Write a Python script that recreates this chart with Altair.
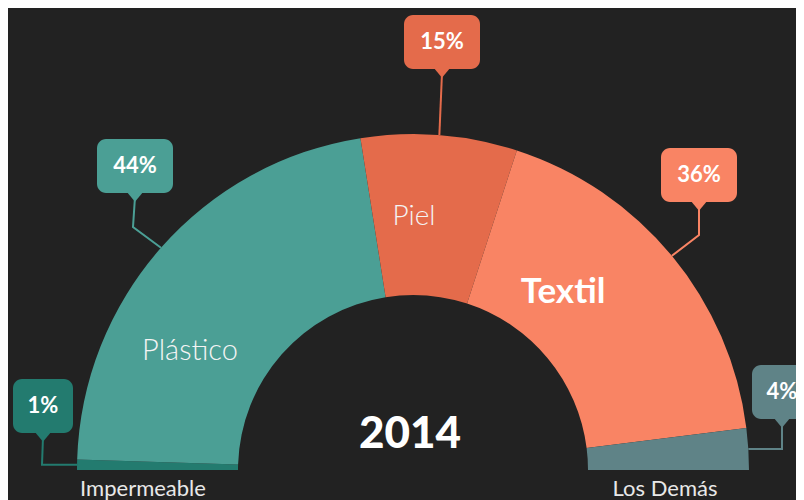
import math
import altair as alt
import pandas as pd

# ---------------- data ----------------
categories = ["Impermeable", "Plástico", "Piel", "Textil", "Los Demás"]
shares = [1, 44, 15, 36, 4]
pct_labels = ["1%", "44%", "15%", "36%", "4%"]
center_title = "2014"

# ---------------- styles / layout (chart pixel space) ----------------
slice_colors = ["#237b6f", "#4b9f95", "#e46b4b", "#f98464", "#5f8387"]
BG = "#222222"
FONT = "Lato"
W, H = 788, 492
CX, CY = 405, 462
R_OUT, R_IN = 336, 175

box_cx = [35, 127, 434, 691, 774]
box_cy = [398, 158, 34, 167, 384]
box_w = [60, 76, 76, 76, 60]
box_h = 54
elbow_x = [34, 125, None, 691, 774]
elbow_y = [None, 219, None, 227, None]   # None -> same y as anchor

inner_label_cats = ["Plástico", "Piel", "Textil"]
inner_label_x = [182, 406, 555]
inner_label_y = [343, 209, 284]
inner_label_size = [29, 28, 35]
inner_label_bold = [False, False, True]

bottom_label_cats = ["Impermeable", "Los Demás"]
bottom_label_x = [135, 657]
bottom_label_y = 488

# ---------------- derived tables ----------------
df = pd.DataFrame({"cat": categories, "share": shares, "pct": pct_labels,
                   "idx": list(range(len(categories)))})

total = sum(shares)
cum = 0
anchors = []
for s in shares:
    mid = (cum + s / 2) / total
    cum += s
    a = -math.pi / 2 + math.pi * mid
    anchors.append((CX + R_OUT * math.sin(a), CY - R_OUT * math.cos(a)))

line_rows = []
for i, c in enumerate(categories):
    ax, ay = anchors[i]
    pts = [(ax, ay)]
    if elbow_x[i] is not None:
        ey = elbow_y[i] if elbow_y[i] is not None else ay
        pts.append((elbow_x[i], ey))
    pts.append((box_cx[i], box_cy[i] + box_h / 2 + 4))
    for k, (px, py) in enumerate(pts):
        line_rows.append({"cat": c, "o": k, "x": px, "y": py})
lines_df = pd.DataFrame(line_rows)

boxes_df = pd.DataFrame({
    "cat": categories, "pct": pct_labels,
    "x": box_cx, "y": box_cy,
    "x0": [cx - w / 2 for cx, w in zip(box_cx, box_w)],
    "x1": [cx + w / 2 for cx, w in zip(box_cx, box_w)],
    "y0": [cy - box_h / 2 for cy in box_cy],
    "y1": [cy + box_h / 2 for cy in box_cy],
    "yp": [cy + box_h / 2 - 1 for cy in box_cy],
})

inner_df = pd.DataFrame({"cat": inner_label_cats, "x": inner_label_x,
                         "y": inner_label_y, "fs": inner_label_size,
                         "bold": inner_label_bold})
bottom_df = pd.DataFrame({"cat": bottom_label_cats, "x": bottom_label_x,
                          "y": [bottom_label_y] * len(bottom_label_cats)})
title_df = pd.DataFrame({"t": [center_title], "x": [402], "y": [427]})

# ---------------- scales ----------------
xs = alt.Scale(domain=[0, W], range=[0, W], nice=False, zero=False)
ys = alt.Scale(domain=[0, H], range=[0, H], nice=False, zero=False)
cs = alt.Scale(domain=categories, range=slice_colors)
X = lambda f: alt.X(f, type="quantitative", scale=xs, axis=None)
Y = lambda f: alt.Y(f, type="quantitative", scale=ys, axis=None)
C = alt.Color("cat:N", scale=cs, legend=None)

arcs = alt.Chart(df).mark_arc(radius=R_OUT, radius2=R_IN, stroke=None).encode(
    theta=alt.Theta("share:Q", stack=True,
                    scale=alt.Scale(range=[-math.pi / 2, math.pi / 2])),
    order=alt.Order("idx:Q"),
    color=C,
    x=alt.value(CX), y=alt.value(CY),
)

leaders = alt.Chart(lines_df).mark_line(strokeWidth=2).encode(
    x=X("x"), y=Y("y"), color=C, detail="cat:N", order="o:Q")

boxes = alt.Chart(boxes_df).mark_rect(cornerRadius=9, opacity=1).encode(
    x=X("x0"), x2="x1", y=Y("y0"), y2="y1", color=C)

pointers = alt.Chart(boxes_df).mark_point(
    shape="M-1,-0.2L1,-0.2L0,1Z", filled=True, opacity=1, size=380,
    strokeWidth=0).encode(x=X("x"), y=Y("yp"), color=C)

pct_text = alt.Chart(boxes_df).mark_text(
    font=FONT, fontSize=22, fontWeight="bold", color="white",
    baseline="middle", align="center").encode(
    x=X("x"), y=Y("y"), text="pct:N")

inner_light = alt.Chart(inner_df).transform_filter("!datum.bold").mark_text(
    font=FONT, fontWeight=300, color="#f4f4f4", baseline="middle",
    align="center").encode(x=X("x"), y=Y("y"), text="cat:N",
                           size=alt.Size("fs:Q", scale=None))
inner_bold = alt.Chart(inner_df).transform_filter("datum.bold").mark_text(
    font=FONT, fontWeight="bold", color="white", baseline="middle",
    align="center").encode(x=X("x"), y=Y("y"), text="cat:N",
                           size=alt.Size("fs:Q", scale=None))

bottom_text = alt.Chart(bottom_df).mark_text(
    font=FONT, fontSize=22, color="#e8e8e8", baseline="alphabetic",
    align="center").encode(x=X("x"), y=Y("y"), text="cat:N")

title_text = alt.Chart(title_df).mark_text(
    font=FONT, fontSize=44, fontWeight=900, color="white",
    baseline="middle", align="center").encode(x=X("x"), y=Y("y"), text="t:N")

chart = alt.layer(arcs, leaders, boxes, pointers, pct_text, inner_light,
                  inner_bold, bottom_text, title_text).properties(
    width=W, height=H, background=BG, padding=0,
    autosize=alt.AutoSizeParams(type="none"),
).configure_view(stroke=None)

chart.save("out.html", embed_options={"renderer": "svg", "actions": False})
